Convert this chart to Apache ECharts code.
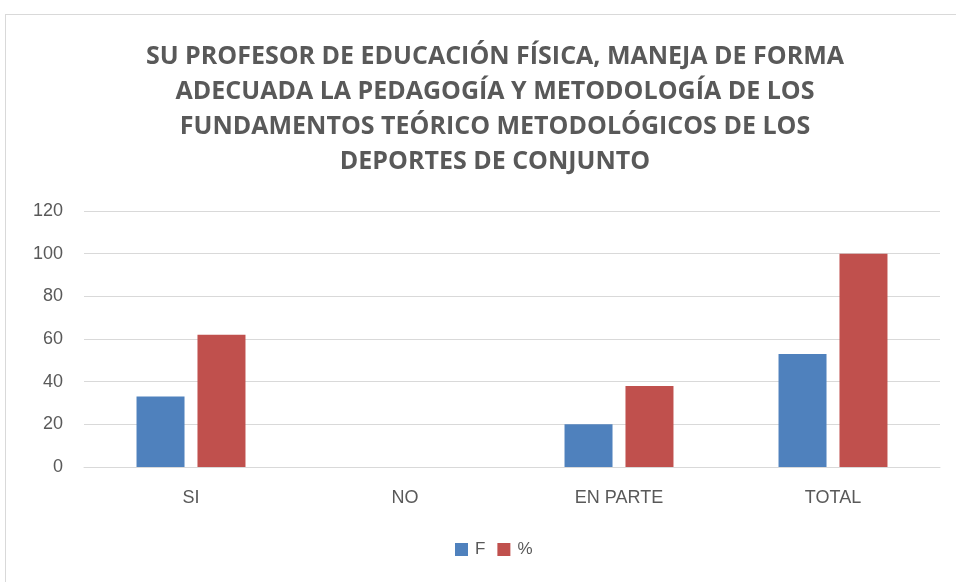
<!DOCTYPE html>
<html>
<head>
<meta charset="utf-8">
<script src="https://cdn.jsdelivr.net/npm/echarts@6/dist/echarts.min.js"></script>
<style>
  html, body { margin: 0; padding: 0; background: #fff; }
  #chart { width: 956px; height: 582px; }
  .frame { position: absolute; left: 5px; top: 14px; width: 960px; height: 580px; border: 1px solid #d9d9d9; pointer-events: none; }
</style>
</head>
<body>
<div id="chart"></div>
<div class="frame"></div>
<script>
// datos
var categorias = ['SI', 'NO', 'EN PARTE', 'TOTAL'];
var valoresF = [33, 0, 20, 53];
var valoresPct = [62, 0, 38, 100];
var yTicks = [0, 20, 40, 60, 80, 100, 120];

var titulo = 'SU PROFESOR DE EDUCACIÓN FÍSICA, MANEJA DE FORMA\nADECUADA LA PEDAGOGÍA Y METODOLOGÍA DE LOS\nFUNDAMENTOS TEÓRICO METODOLÓGICOS DE LOS\nDEPORTES DE CONJUNTO';

var myChart = echarts.init(document.getElementById('chart'));
var option = {
  animation: false,
  title: {
    text: titulo,
    left: 490,
    textAlign: 'center',
    top: 34,
    textStyle: {
      fontFamily: 'Open Sans',
      fontWeight: 'bold',
      fontSize: 25,
      lineHeight: 35,
      color: '#595959'
    }
  },
  legend: {
    bottom: 19,
    left: 450,
    itemWidth: 13,
    itemHeight: 13,
    itemGap: 12,
    icon: 'rect',
    textStyle: { fontFamily: 'Liberation Sans', fontSize: 17, color: '#595959', padding: [0, 0, 0, 2] },
    data: ['F', '%']
  },
  grid: {
    left: 84,
    right: 16,
    top: 211,
    bottom: 115
  },
  xAxis: {
    type: 'category',
    data: categorias,
    axisLine: { lineStyle: { color: '#d9d9d9', width: 1 } },
    axisTick: { show: false },
    axisLabel: {
      fontFamily: 'Liberation Sans',
      fontSize: 18,
      color: '#595959',
      margin: 22
    }
  },
  yAxis: {
    type: 'value',
    min: 0,
    max: 120,
    interval: 20,
    axisLine: { show: false },
    axisTick: { show: false },
    splitLine: { lineStyle: { color: '#d9d9d9', width: 1 } },
    axisLabel: {
      fontFamily: 'Liberation Sans',
      fontSize: 18,
      color: '#595959',
      margin: 21,
      formatter: function (v) { return yTicks.indexOf(v) >= 0 ? String(v) : ''; }
    }
  },
  series: [
    {
      name: 'F',
      type: 'bar',
      data: valoresF,
      barWidth: 48,
      barGap: '27%',
      itemStyle: { color: '#4f81bd' }
    },
    {
      name: '%',
      type: 'bar',
      data: valoresPct,
      barWidth: 48,
      itemStyle: { color: '#c0504d' }
    }
  ]
};
myChart.setOption(option);
</script>
</body>
</html>
